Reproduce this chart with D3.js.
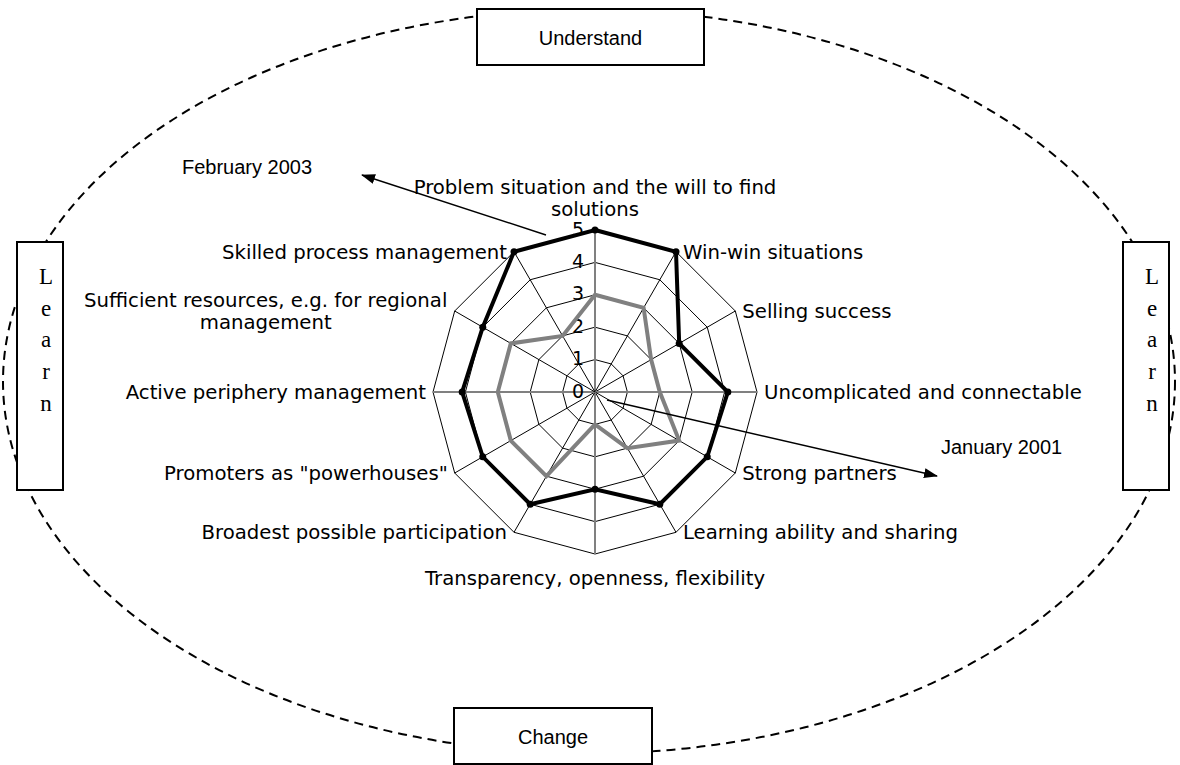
<!DOCTYPE html>
<html>
<head>
<meta charset="utf-8">
<script src="https://cdn.jsdelivr.net/npm/d3@7/dist/d3.min.js"></script>
<style>
  body { margin: 0; background: #fff; }
</style>
</head>
<body>
<div class="visualize-svg"></div>
<script>
// radar axes, clockwise from the top
const axisLabels = [
  ['Problem situation and the will to find', 'solutions'],
  ['Win-win situations'],
  ['Selling success'],
  ['Uncomplicated and connectable'],
  ['Strong partners'],
  ['Learning ability and sharing'],
  ['Transparency, openness, flexibility'],
  ['Broadest possible participation'],
  ['Promoters as "powerhouses"'],
  ['Active periphery management'],
  ['Sufficient resources, e.g. for regional', 'management'],
  ['Skilled process management']
];
const feb2003 = [5, 5, 3, 4.1, 4, 4, 3, 4, 4, 4.1, 4, 5];
const jan2001 = [3, 3, 2, 2, 3, 2, 1, 3, 3, 3, 3, 2];
const ticks = [0, 1, 2, 3, 4, 5];
const seriesNames = ['February 2003', 'January 2001'];
const phases = ['Understand', 'Change'];
const sideWord = 'Learn';

class RadarFrame {
  constructor() {
    this._width = 1180;
    this._height = 765;
    this.cx = 595;
    this.cy = 392;
    this.radius = 162;

    this.r = d3.scaleLinear().domain([0, d3.max(ticks)]).range([0, this.radius]);
    this.angle = d3.scaleLinear().domain([0, axisLabels.length]).range([0, 2 * Math.PI]);

    this.svg = d3.select('.visualize-svg')
      .append('svg')
      .attr('width', this._width)
      .attr('height', this._height)
      .style('display', 'block');

    this.svg.append('defs').append('marker')
      .attr('id', 'head')
      .attr('markerUnits', 'userSpaceOnUse')
      .attr('markerWidth', 14)
      .attr('markerHeight', 10)
      .attr('refX', 13)
      .attr('refY', 5)
      .attr('orient', 'auto')
      .append('path')
      .attr('d', 'M0,0L14,5L0,10Z')
      .attr('fill', '#000');
  }

  point(i, v) {
    const a = this.angle(i);
    return [this.cx + this.r(v) * Math.sin(a), this.cy - this.r(v) * Math.cos(a)];
  }
}

class Radar extends RadarFrame {
  drawFrame() {
    // dashed cycle round the chart
    this.svg.append('ellipse')
      .attr('cx', 589).attr('cy', 381.5)
      .attr('rx', 586).attr('ry', 372)
      .attr('fill', 'none')
      .attr('stroke', '#000')
      .attr('stroke-width', 2)
      .attr('stroke-dasharray', '9,6');

    const boxes = [
      { x: 477, y: 9, w: 227, h: 56, text: phases[0] },
      { x: 454, y: 708, w: 198, h: 56, text: phases[1] }
    ];
    const g = this.svg.append('g');
    boxes.forEach(b => {
      g.append('rect')
        .attr('x', b.x).attr('y', b.y).attr('width', b.w).attr('height', b.h)
        .attr('fill', '#fff').attr('stroke', '#000').attr('stroke-width', 2);
      g.append('text')
        .attr('x', b.x + b.w / 2).attr('y', b.y + 36)
        .attr('text-anchor', 'middle')
        .style('font-family', '"Liberation Sans", Arial, sans-serif')
        .style('font-size', '20px')
        .text(b.text);
    });

    [17, 1123].forEach(x => {
      g.append('rect')
        .attr('x', x).attr('y', 242).attr('width', 46).attr('height', 248)
        .attr('fill', '#fff').attr('stroke', '#000').attr('stroke-width', 2);
      g.selectAll(null)
        .data(sideWord.split(''))
        .enter().append('text')
        .attr('x', x + 29)
        .attr('y', (d, i) => 284 + i * 31.7)
        .attr('text-anchor', 'middle')
        .style('font-family', '"Liberation Serif", "Times New Roman", serif')
        .style('font-size', '23px')
        .text(d => d);
    });
    return this;
  }

  drawGrid() {
    const g = this.svg.append('g');
    ticks.filter(t => t > 0).forEach(t => {
      g.append('path')
        .datum(axisLabels.map((d, i) => i))
        .attr('d', d3.lineRadial()
          .angle(i => this.angle(i))
          .radius(this.r(t))
          .curve(d3.curveLinearClosed))
        .attr('transform', `translate(${this.cx},${this.cy})`)
        .attr('fill', 'none')
        .attr('stroke', '#000')
        .attr('stroke-width', 1);
    });

    g.selectAll('line.spoke')
      .data(axisLabels.map((d, i) => i))
      .enter().append('line')
      .attr('class', 'spoke')
      .attr('x1', this.cx).attr('y1', this.cy)
      .attr('x2', i => this.point(i, 5)[0])
      .attr('y2', i => this.point(i, 5)[1])
      .attr('stroke', i => i % 3 === 0 ? '#808080' : '#000')
      .attr('stroke-width', i => i % 3 === 0 ? 2 : 1);

    g.selectAll('text.tick')
      .data(ticks)
      .enter().append('text')
      .attr('class', 'tick')
      .attr('x', this.cx - 11)
      .attr('y', t => this.cy - this.r(t) + 5.5)
      .attr('text-anchor', 'end')
      .style('font-family', '"DejaVu Sans", Verdana, sans-serif')
      .style('font-size', '19px')
      .text(t => t);
    return this;
  }

  drawLabels() {
    const g = this.svg.append('g')
      .style('font-family', '"DejaVu Sans", Verdana, sans-serif')
      .style('font-size', '19.7px');
    const lh = 22;

    axisLabels.forEach((lines, i) => {
      const [vx, vy] = this.point(i, 5);
      const dx = vx - this.cx;
      let anchor = 'middle', x = vx, y0;
      if (Math.abs(dx) < 1) {
        y0 = vy < this.cy ? vy - 14 - (lines.length - 1) * lh : vy + 31;
      } else {
        anchor = dx > 0 ? 'start' : 'end';
        x = dx > 0 ? vx + 7 : vx - 7;
        y0 = vy + 7 - (lines.length - 1) * lh / 2;
      }
      const t = g.append('text').attr('text-anchor', anchor);
      lines.forEach((line, k) => {
        t.append('tspan')
          .attr('x', lines.length > 1 && anchor === 'end' ? x - 182 : x)
          .attr('y', y0 + k * lh)
          .attr('text-anchor', lines.length > 1 ? 'middle' : anchor)
          .text(line);
      });
    });
    return this;
  }

  drawSeries() {
    const line = d3.lineRadial()
      .angle((d, i) => this.angle(i))
      .radius(d => this.r(d))
      .curve(d3.curveLinearClosed);

    const g = this.svg.append('g').attr('transform', `translate(${this.cx},${this.cy})`);
    g.append('path')
      .datum(jan2001)
      .attr('d', line)
      .attr('fill', 'none')
      .attr('stroke', '#808080')
      .attr('stroke-width', 4)
      .attr('stroke-linejoin', 'miter');

    g.append('path')
      .datum(feb2003)
      .attr('d', line)
      .attr('fill', 'none')
      .attr('stroke', '#000')
      .attr('stroke-width', 4)
      .attr('stroke-linejoin', 'miter');

    this.svg.append('g').selectAll('circle')
      .data(feb2003)
      .enter().append('circle')
      .attr('cx', (d, i) => this.point(i, d)[0])
      .attr('cy', (d, i) => this.point(i, d)[1])
      .attr('r', 3.5)
      .attr('fill', '#000');
    return this;
  }

  drawCallouts() {
    const notes = [
      { text: seriesNames[0], tx: 182, ty: 174, from: [546, 235], to: [362, 175] },
      { text: seriesNames[1], tx: 941, ty: 454, from: [607, 400], to: [937, 476] }
    ];
    const g = this.svg.append('g');
    notes.forEach(n => {
      g.append('line')
        .attr('x1', n.from[0]).attr('y1', n.from[1])
        .attr('x2', n.to[0]).attr('y2', n.to[1])
        .attr('stroke', '#000')
        .attr('stroke-width', 1.4)
        .attr('marker-end', 'url(#head)');
      g.append('text')
        .attr('x', n.tx).attr('y', n.ty)
        .style('font-family', '"Liberation Sans", Arial, sans-serif')
        .style('font-size', '20px')
        .text(n.text);
    });
    return this;
  }

  draw() {
    this
      .drawFrame()
      .drawGrid()
      .drawSeries()
      .drawLabels()
      .drawCallouts();
    return this;
  }
}

new Radar().draw();
</script>
</body>
</html>
